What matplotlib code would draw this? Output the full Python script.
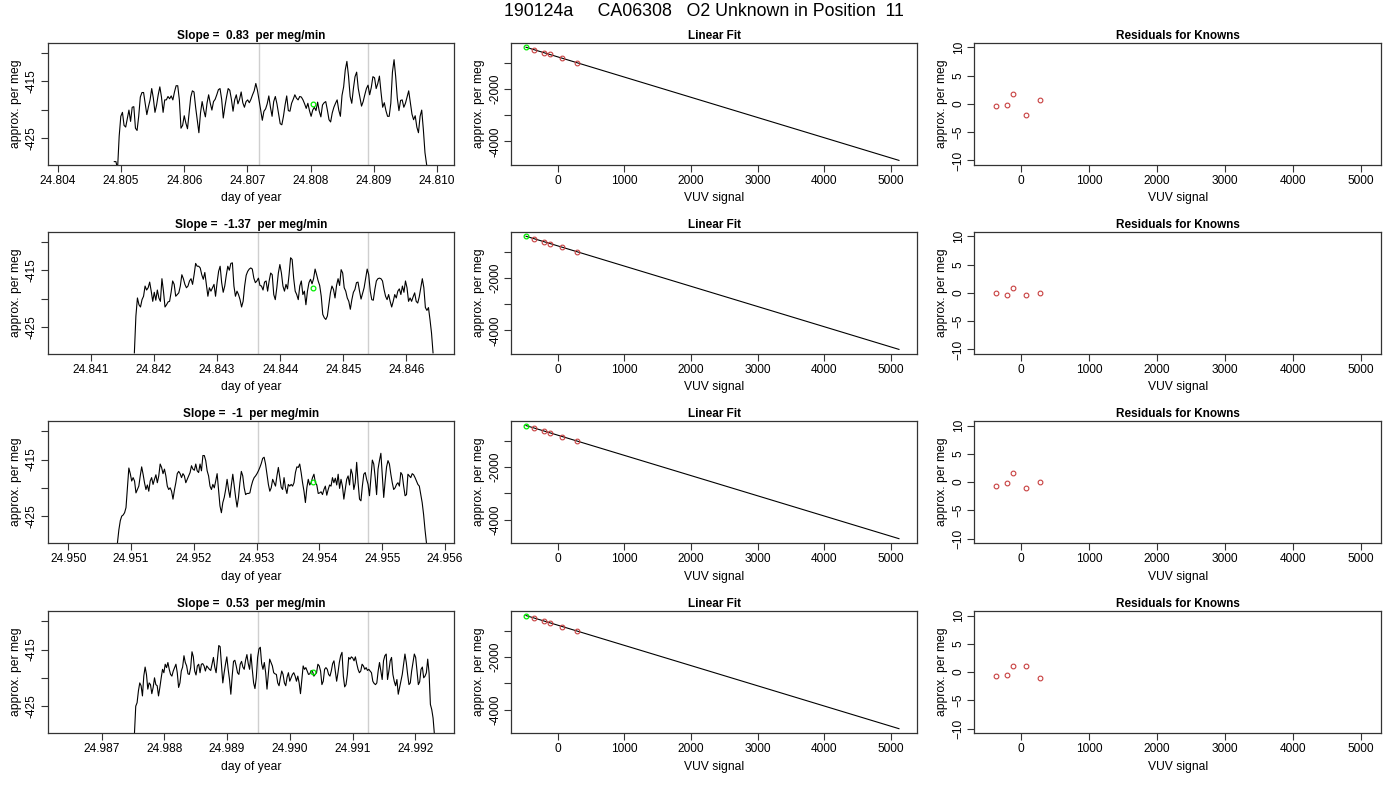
import matplotlib
matplotlib.use('Agg')
import matplotlib.pyplot as plt
import numpy as np

plt.rcParams['font.family'] = ['Liberation Sans', 'DejaVu Sans']

main_title = '190124a     CA06308   O2 Unknown in Position  11'
slopes = ['0.83', '-1.37', '-1', '0.53']

# trace start / end (day of year) and axis limits for each of the 4 runs
trace_start = [24.804894, 24.841689, 24.950783, 24.987524]
trace_end = [24.809862, 24.846421, 24.955704, 24.992302]
day_xlim = [(24.80384, 24.81027), (24.840316, 24.846753),
            (24.949672, 24.956143), (24.986143, 24.992614)]
day_ticks = [[24.804, 24.805, 24.806, 24.807, 24.808, 24.809, 24.810],
             [24.841, 24.842, 24.843, 24.844, 24.845, 24.846],
             [24.950, 24.951, 24.952, 24.953, 24.954, 24.955, 24.956],
             [24.987, 24.988, 24.989, 24.990, 24.991, 24.992]]
# averaging window (gray lines)
window = [(24.80719, 24.80891), (24.843647, 24.845384),
          (24.953021, 24.954767), (24.989492, 24.991238)]
# unknown mean (green point) time and value
unk_day = [24.80804, 24.844516, 24.953894, 24.990365]
unk_val = [-419.1, -418.1, -419.0, -419.0]

trace1 = [-429.2, -429.2, -430.5, -424.7, -421.2, -420.5, -422.8, -423.1, -421.6, -420.1,
          -422.1, -419.6, -419.5, -423.3, -423.7, -421.2, -417.8, -417.0, -417.0, -418.9,
          -420.9, -419.5, -418.3, -416.3, -418.0, -420.5, -419.2, -417.4, -416.0, -417.8,
          -420.5, -418.3, -418.3, -417.7, -418.1, -417.6, -418.3, -416.9, -415.8, -415.8,
          -418.3, -423.3, -422.8, -421.1, -422.4, -423.4, -420.6, -417.8, -416.7, -416.9,
          -419.6, -421.8, -424.1, -420.6, -418.6, -420.1, -421.3, -418.9, -417.4, -418.9,
          -420.1, -418.6, -418.2, -417.4, -416.5, -416.3, -418.2, -421.5, -419.5, -417.8,
          -416.3, -416.6, -418.2, -420.3, -418.3, -417.4, -419.0, -418.2, -416.9, -418.8,
          -419.6, -418.6, -418.3, -418.8, -418.2, -417.4, -416.7, -415.4, -416.6, -418.3,
          -420.1, -421.9, -420.3, -419.9, -419.0, -417.6, -419.6, -421.2, -418.6, -417.7,
          -419.0, -420.8, -422.5, -422.7, -421.2, -419.2, -417.6, -420.2, -420.3, -418.9,
          -418.2, -417.4, -418.0, -418.3, -417.7, -417.8, -418.3, -419.0, -419.8, -418.9,
          -420.2, -421.2, -420.1, -419.6, -420.2, -418.7, -420.3, -421.3, -419.2, -418.8,
          -418.6, -420.1, -421.8, -422.2, -420.6, -419.6, -418.9, -418.3, -420.1, -421.2,
          -417.5, -416.0, -413.0, -411.5, -414.1, -417.7, -418.9, -416.3, -414.2, -413.4,
          -416.3, -417.8, -419.4, -418.6, -417.4, -416.3, -415.7, -417.4, -416.1, -414.2,
          -414.4, -416.3, -415.4, -414.1, -417.0, -419.6, -418.8, -420.2, -421.2, -421.2,
          -418.9, -413.4, -411.2, -414.2, -418.0, -420.2, -418.4, -418.3, -419.6, -418.9,
          -417.8, -416.7, -418.8, -420.8, -421.8, -421.1, -423.1, -424.1, -421.2, -420.1,
          -423.5, -427.6, -429.7, -430.5]

trace2 = [-429.6, -423.1, -419.9, -421.1, -421.5, -420.2, -419.6, -417.8, -418.5, -418.1,
          -417.1, -418.7, -420.5, -418.9, -420.3, -418.5, -419.9, -420.5, -416.5, -418.7,
          -421.5, -421.1, -420.6, -420.5, -418.9, -416.9, -417.5, -419.6, -419.3, -419.0,
          -417.8, -415.8, -416.5, -417.5, -418.1, -417.8, -416.9, -416.5, -417.5, -415.8,
          -413.8, -414.3, -414.3, -414.6, -415.8, -416.6, -415.4, -417.5, -419.6, -418.1,
          -418.7, -418.1, -417.5, -419.6, -417.2, -415.2, -414.3, -417.2, -418.9, -417.8,
          -415.9, -414.3, -415.0, -413.8, -413.7, -417.8, -419.6, -418.7, -419.3, -420.2,
          -421.5, -420.5, -417.8, -415.9, -415.2, -414.8, -414.6, -414.8, -416.4, -417.2,
          -416.9, -416.4, -417.7, -417.8, -418.5, -417.1, -416.9, -418.7, -416.9, -415.5,
          -415.8, -419.3, -420.2, -418.1, -415.5, -414.0, -415.5, -417.8, -418.7, -417.5,
          -418.3, -415.8, -412.8, -413.1, -416.4, -418.7, -419.3, -420.2, -417.8, -416.9,
          -419.3, -418.7, -421.1, -418.7, -417.2, -416.6, -417.4, -416.5, -414.8, -415.8,
          -416.9, -417.7, -419.6, -422.8, -423.4, -423.7, -423.1, -421.1, -419.0, -417.8,
          -418.4, -419.9, -417.7, -416.5, -417.7, -414.9, -415.5, -418.1, -418.7, -419.9,
          -420.5, -421.9, -420.2, -418.9, -418.4, -417.2, -417.1, -418.7, -420.1, -419.1,
          -418.1, -416.4, -414.8, -415.8, -418.7, -420.2, -420.3, -418.4, -416.9, -416.5,
          -416.4, -416.5, -416.9, -418.4, -419.6, -420.2, -419.3, -420.5, -421.5, -420.5,
          -419.3, -419.9, -418.7, -418.3, -419.3, -417.8, -418.9, -416.9, -418.1, -420.5,
          -419.9, -420.5, -419.7, -419.0, -420.5, -420.8, -419.7, -418.1, -416.5, -418.1,
          -421.6, -422.1, -421.6, -423.7, -426.1, -429.6]

trace3 = [-429.7, -427.4, -425.8, -425.0, -424.8, -424.4, -423.5, -420.0, -416.5, -417.5,
          -418.8, -418.2, -418.8, -420.9, -420.3, -419.7, -417.9, -416.3, -417.6, -419.1,
          -420.3, -419.5, -420.6, -418.8, -418.2, -419.4, -418.5, -417.7, -419.1, -417.9,
          -415.8, -416.4, -417.5, -416.7, -417.9, -419.7, -420.3, -420.0, -420.6, -422.0,
          -420.4, -419.1, -417.5, -417.1, -417.5, -418.2, -417.5, -417.9, -419.1, -418.5,
          -417.9, -417.3, -416.1, -416.7, -416.9, -415.8, -417.0, -417.3, -415.8, -417.0,
          -414.3, -414.3, -415.2, -417.0, -417.9, -419.7, -420.3, -419.4, -420.0, -418.8,
          -417.5, -420.3, -423.2, -424.4, -422.6, -421.7, -420.3, -418.5, -420.3, -421.7,
          -419.5, -417.6, -419.7, -421.7, -423.4, -421.7, -419.1, -417.1, -417.9, -420.0,
          -421.2, -421.0, -421.0, -420.9, -419.7, -418.8, -418.2, -417.9, -417.5, -417.0,
          -416.4, -415.7, -414.8, -414.6, -415.8, -417.6, -419.4, -420.6, -420.0, -418.5,
          -419.1, -419.7, -417.9, -416.4, -418.2, -419.9, -420.3, -418.2, -420.0, -421.0,
          -419.4, -419.7, -419.4, -419.7, -419.1, -417.3, -416.3, -416.4, -415.8, -417.3,
          -419.1, -420.6, -422.6, -420.0, -418.5, -419.5, -419.1, -418.2, -417.6, -419.1,
          -419.5, -421.0, -420.9, -420.7, -421.2, -420.3, -419.7, -421.3, -420.3, -419.5,
          -419.7, -418.2, -419.1, -418.3, -419.5, -417.6, -420.1, -418.5, -419.7, -422.0,
          -420.3, -418.5, -417.9, -419.5, -416.7, -417.6, -420.3, -419.1, -415.5, -419.1,
          -422.0, -422.3, -419.7, -417.6, -417.3, -418.5, -419.4, -421.4, -418.2, -415.1,
          -415.8, -418.2, -421.2, -416.7, -415.2, -413.9, -417.9, -421.7, -418.8, -416.3,
          -415.2, -415.8, -417.6, -419.1, -420.3, -420.0, -419.4, -419.1, -419.7, -417.3,
          -417.7, -419.7, -421.4, -421.2, -417.6, -417.9, -418.2, -417.5, -417.7, -418.2,
          -418.8, -419.4, -419.7, -421.2, -422.6, -424.7, -427.4, -429.7]

trace4 = [-430.0, -425.0, -424.4, -422.3, -420.9, -421.4, -423.2, -419.7, -418.1, -419.4,
          -422.0, -420.9, -421.2, -422.8, -421.7, -420.0, -421.2, -421.4, -423.2, -421.7,
          -420.0, -418.5, -419.1, -417.6, -418.2, -417.3, -418.5, -419.4, -419.7, -418.8,
          -418.2, -417.6, -419.1, -421.7, -420.9, -418.8, -418.1, -416.1, -417.3, -417.9,
          -419.3, -419.4, -418.2, -415.4, -416.3, -418.8, -419.5, -417.9, -417.6, -419.1,
          -417.6, -417.5, -417.9, -418.8, -417.9, -418.2, -418.5, -418.7, -417.5, -416.4,
          -418.1, -419.1, -416.7, -414.3, -414.5, -417.6, -420.9, -419.1, -417.6, -416.3,
          -418.5, -420.3, -422.9, -419.7, -417.1, -416.9, -417.9, -419.1, -419.4, -417.6,
          -417.1, -418.1, -418.5, -416.9, -415.9, -417.5, -418.5, -415.8, -418.5, -420.9,
          -421.9, -420.0, -416.4, -414.9, -414.6, -417.5, -418.5, -417.3, -419.1, -422.0,
          -419.4, -416.7, -417.3, -417.9, -419.1, -419.3, -419.4, -420.9, -421.4, -420.0,
          -418.8, -419.4, -420.9, -421.4, -419.9, -419.1, -420.6, -420.0, -419.4, -419.1,
          -419.7, -420.6, -419.7, -420.9, -422.8, -420.3, -417.9, -418.5, -418.2, -418.8,
          -419.4, -419.3, -418.7, -418.9, -419.7, -419.4, -419.1, -417.6, -417.9, -418.8,
          -421.2, -420.6, -418.5, -418.2, -418.5, -419.4, -419.7, -418.8, -417.5, -417.0,
          -418.8, -420.6, -419.1, -417.3, -416.1, -415.5, -419.7, -421.6, -421.2, -419.4,
          -416.4, -416.7, -416.3, -416.5, -417.0, -416.3, -417.5, -418.5, -419.1, -418.8,
          -417.6, -417.9, -418.5, -418.2, -418.7, -418.5, -418.8, -419.1, -420.6, -421.0,
          -421.2, -420.9, -418.8, -417.3, -418.8, -420.3, -417.0, -416.1, -415.8, -420.3,
          -418.8, -417.0, -416.4, -419.4, -420.6, -421.4, -420.3, -422.9, -421.7, -420.6,
          -419.4, -417.6, -415.8, -417.3, -419.4, -421.2, -420.9, -418.8, -417.3, -415.8,
          -416.4, -418.8, -421.2, -420.7, -418.5, -418.1, -420.0, -419.7, -419.1, -416.7,
          -419.1, -424.7, -425.6, -427.1, -430.0]

traces = [trace1, trace2, trace3, trace4]

# VUV calibration: knowns (same cylinders every run) and the unknown
known_vuv = [-360, -200, -115, 70, 287]
known_permeg = [[-506.5, -629.4, -692.9, -838.8, -1003.0],
                [-506.3, -629.6, -693.8, -837.2, -1003.7],
                [-506.9, -629.3, -693.0, -837.8, -1003.6],
                [-506.9, -629.8, -693.4, -835.7, -1004.7]]
residuals = [[-0.3, -0.2, 1.7, -2.0, 0.7],
             [-0.1, -0.35, 0.8, -0.35, 0.05],
             [-0.65, -0.1, 1.55, -1.0, 0.05],
             [-0.65, -0.55, 1.15, 1.1, -1.0]]
unk_vuv = -475
vuv_max = 5120

red = '#c84040'
green = '#00ee00'
tick_fs = 8.6
lab_fs = 8.7
title_fs = 8.5

lefts = [47.7, 511.0, 974.3]
widths = [406.3, 406.3, 406.7]
bottoms = [165.0, 354.0, 543.3, 733.3]
height = 122.3


def style_axes(ax):
    for s in ax.spines.values():
        s.set_linewidth(0.9)
        s.set_color('#333333')
    ax.tick_params(direction='out', length=5, width=0.8, pad=2,
                   labelsize=tick_fs, color='#333333')
    for lab in ax.get_yticklabels():
        lab.set_rotation(90)
        lab.set_va('center')


def time_panel(ax, i):
    day = np.linspace(trace_start[i], trace_end[i], len(traces[i]))
    ax.axvline(window[i][0], color='#cfcfcf', lw=1)
    ax.axvline(window[i][1], color='#cfcfcf', lw=1)
    ax.plot(day, traces[i], color='black', lw=0.8)
    ax.plot(unk_day[i], unk_val[i], 'o', mfc='none', mec=green, ms=3.4, mew=0.9)
    ax.set_xlim(day_xlim[i])
    ax.set_ylim(-429.8, -408.2)
    ax.set_xticks(day_ticks[i])
    ax.set_xticklabels(['%.3f' % t for t in day_ticks[i]])
    ax.set_yticks([-425, -420, -415, -410])
    ax.set_yticklabels(['-425', '', '-415', ''])
    ax.set_xlabel('day of year', fontsize=lab_fs, labelpad=4)
    ax.set_ylabel('approx. per meg', fontsize=lab_fs, labelpad=3)
    ax.set_title('Slope =  %s  per meg/min' % slopes[i], fontsize=title_fs,
                 fontweight='bold', pad=3)
    style_axes(ax)


def fit_panel(ax, i):
    b, a = np.polyfit(known_vuv, known_permeg[i], 1)
    xs = np.array([unk_vuv, vuv_max])
    ax.plot(xs, a + b * xs, color='black', lw=0.8)
    ax.plot(known_vuv, known_permeg[i], 'o', mfc='none', mec=red, ms=3.4, mew=0.8)
    ax.plot(unk_vuv, unk_val[i], 'o', mfc='none', mec=green, ms=3.4, mew=0.9)
    ax.set_xlim(-700, 5395)
    ax.set_ylim(-4895, -245)
    ax.set_xticks([0, 1000, 2000, 3000, 4000, 5000])
    ax.set_yticks([-4000, -3000, -2000, -1000])
    ax.set_yticklabels(['-4000', '', '-2000', ''])
    ax.set_xlabel('VUV signal', fontsize=lab_fs, labelpad=4)
    ax.set_ylabel('approx. per meg', fontsize=lab_fs, labelpad=3)
    ax.set_title('Linear Fit', fontsize=title_fs, fontweight='bold', pad=3)
    style_axes(ax)


def resid_panel(ax, i):
    ax.plot(known_vuv, residuals[i], 'o', mfc='none', mec=red, ms=3.4, mew=0.8)
    ax.set_xlim(-686, 5294)
    ax.set_ylim(-10.8, 10.8)
    ax.set_xticks([0, 1000, 2000, 3000, 4000, 5000])
    ax.set_yticks([-10, -5, 0, 5, 10])
    ax.set_xlabel('VUV signal', fontsize=lab_fs, labelpad=4)
    ax.set_ylabel('approx. per meg', fontsize=lab_fs, labelpad=3)
    ax.set_title('Residuals for Knowns', fontsize=title_fs, fontweight='bold', pad=3)
    style_axes(ax)


def run():
    fig = plt.figure(figsize=(14, 8), dpi=100)
    for i in range(4):
        row = []
        for j in range(3):
            rect = [lefts[j] / 1400, 1 - bottoms[i] / 800, widths[j] / 1400, height / 800]
            row.append(fig.add_axes(rect))
        time_panel(row[0], i)
        fit_panel(row[1], i)
        resid_panel(row[2], i)
    fig.text(704 / 1400, 1 - 12 / 800, main_title, fontsize=12.8, ha='center', va='center')
    fig.savefig('out.png', dpi=100)


if __name__ == '__main__':
    run()
